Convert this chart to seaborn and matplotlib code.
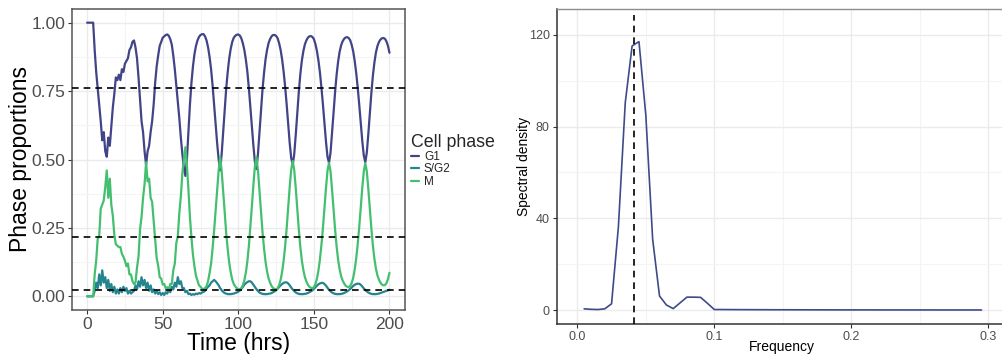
import numpy as np
import pandas as pd
import matplotlib
matplotlib.use("Agg")
import matplotlib.pyplot as plt
import seaborn as sns
from matplotlib.lines import Line2D
from matplotlib.ticker import FixedLocator

# ---------------- data ----------------
time_hrs = np.arange(0, 201)
g1 = [
    1.00, 1.00, 1.00, 1.00, 1.00, 0.90, 0.82, 0.76, 0.70, 0.64,
    0.57, 0.60, 0.53, 0.51, 0.58, 0.55, 0.62, 0.69, 0.74, 0.80,
    0.79, 0.81, 0.79, 0.83, 0.82, 0.85, 0.86, 0.87, 0.90, 0.91,
    0.93, 0.935, 0.91, 0.87, 0.80, 0.72, 0.64, 0.60, 0.53, 0.48,
    0.53, 0.55, 0.60, 0.64, 0.70, 0.78, 0.84, 0.88, 0.915, 0.93,
    0.945, 0.95, 0.955, 0.957, 0.952, 0.94, 0.92, 0.88, 0.83, 0.77,
    0.71, 0.65, 0.58, 0.52, 0.47, 0.44, 0.50, 0.60, 0.70, 0.78,
    0.84, 0.885, 0.915, 0.935, 0.948, 0.955, 0.958, 0.958, 0.95, 0.935,
    0.91, 0.875, 0.83, 0.77, 0.70, 0.63, 0.56, 0.50, 0.46, 0.52,
    0.60, 0.68, 0.76, 0.82, 0.87, 0.905, 0.93, 0.945, 0.952, 0.956,
    0.957, 0.953, 0.943, 0.925, 0.90, 0.865, 0.82, 0.76, 0.69, 0.62,
    0.55, 0.49, 0.465, 0.52, 0.60, 0.68, 0.755, 0.815, 0.865, 0.90,
    0.925, 0.94, 0.95, 0.955, 0.955, 0.952, 0.943, 0.925, 0.90, 0.865,
    0.82, 0.765, 0.70, 0.63, 0.56, 0.505, 0.48, 0.52, 0.59, 0.67,
    0.745, 0.81, 0.86, 0.895, 0.92, 0.935, 0.945, 0.95, 0.951, 0.948,
    0.94, 0.922, 0.897, 0.862, 0.818, 0.762, 0.70, 0.63, 0.565, 0.51,
    0.488, 0.525, 0.595, 0.67, 0.745, 0.808, 0.857, 0.893, 0.917, 0.932,
    0.941, 0.946, 0.947, 0.944, 0.936, 0.919, 0.895, 0.86, 0.816, 0.762,
    0.70, 0.632, 0.568, 0.515, 0.49, 0.525, 0.593, 0.668, 0.742, 0.805,
    0.853, 0.89, 0.914, 0.929, 0.938, 0.943, 0.944, 0.941, 0.932, 0.915,
    0.89,
]
sg2 = [
    0, 0, 0, 0, 0, 0.02, 0.05, 0.03, 0.08, 0.04,
    0.095, 0.05, 0.07, 0.03, 0.06, 0.02, 0.045, 0.015, 0.035, 0.01,
    0.025, 0.01, 0.03, 0.015, 0.035, 0.02, 0.03, 0.01, 0.02, 0.01,
    0.015, 0.02, 0.04, 0.025, 0.055, 0.035, 0.07, 0.04, 0.06, 0.03,
    0.05, 0.02, 0.04, 0.015, 0.025, 0.01, 0.02, 0.008, 0.015, 0.005,
    0.012, 0.005, 0.015, 0.01, 0.025, 0.015, 0.035, 0.025, 0.05, 0.035,
    0.07, 0.045, 0.055, 0.03, 0.03, 0.015, 0.02, 0.008, 0.01, 0.005,
    0.008, 0.006, 0.01, 0.008, 0.012, 0.01, 0.014, 0.016, 0.02, 0.028,
    0.035, 0.04, 0.05, 0.055, 0.06, 0.055, 0.048, 0.04, 0.03, 0.022,
    0.016, 0.012, 0.01, 0.008, 0.008, 0.008, 0.009, 0.01, 0.012, 0.014,
    0.017, 0.021, 0.027, 0.034, 0.042, 0.048, 0.052, 0.055, 0.055, 0.05,
    0.042, 0.034, 0.026, 0.019, 0.014, 0.011, 0.009, 0.008, 0.008, 0.008,
    0.009, 0.01, 0.012, 0.015, 0.018, 0.022, 0.028, 0.034, 0.04, 0.045,
    0.049, 0.051, 0.051, 0.047, 0.04, 0.032, 0.025, 0.019, 0.014, 0.011,
    0.009, 0.008, 0.008, 0.008, 0.009, 0.01, 0.012, 0.015, 0.018, 0.022,
    0.027, 0.033, 0.039, 0.044, 0.047, 0.049, 0.049, 0.045, 0.039, 0.031,
    0.024, 0.018, 0.014, 0.011, 0.009, 0.008, 0.008, 0.008, 0.009, 0.01,
    0.012, 0.015, 0.018, 0.022, 0.027, 0.032, 0.038, 0.042, 0.045, 0.046,
    0.046, 0.042, 0.036, 0.029, 0.023, 0.018, 0.014, 0.011, 0.009, 0.008,
    0.008, 0.008, 0.009, 0.01, 0.012, 0.014, 0.016, 0.018, 0.02, 0.022,
    0.024,
]
m_phase = [
    0, 0, 0, 0, 0, 0.08, 0.13, 0.21, 0.22, 0.32,
    0.335, 0.35, 0.40, 0.46, 0.36, 0.43, 0.335, 0.295, 0.225, 0.19,
    0.185, 0.18, 0.18, 0.155, 0.145, 0.13, 0.11, 0.12, 0.08, 0.08,
    0.055, 0.045, 0.05, 0.105, 0.145, 0.245, 0.29, 0.36, 0.41, 0.49,
    0.42, 0.43, 0.36, 0.345, 0.275, 0.21, 0.14, 0.112, 0.07, 0.065,
    0.043, 0.045, 0.03, 0.033, 0.023, 0.045, 0.045, 0.095, 0.12, 0.195,
    0.22, 0.305, 0.365, 0.45, 0.50, 0.545, 0.48, 0.392, 0.29, 0.215,
    0.152, 0.109, 0.075, 0.057, 0.04, 0.035, 0.028, 0.026, 0.03, 0.037,
    0.055, 0.085, 0.12, 0.175, 0.24, 0.315, 0.392, 0.46, 0.51, 0.458,
    0.384, 0.308, 0.23, 0.172, 0.122, 0.087, 0.061, 0.045, 0.036, 0.03,
    0.026, 0.026, 0.03, 0.041, 0.058, 0.087, 0.128, 0.185, 0.255, 0.33,
    0.408, 0.476, 0.509, 0.461, 0.386, 0.309, 0.236, 0.177, 0.127, 0.092,
    0.066, 0.05, 0.038, 0.03, 0.027, 0.026, 0.029, 0.041, 0.06, 0.09,
    0.131, 0.184, 0.249, 0.323, 0.40, 0.463, 0.495, 0.461, 0.396, 0.319,
    0.246, 0.182, 0.132, 0.097, 0.071, 0.055, 0.043, 0.035, 0.031, 0.03,
    0.033, 0.045, 0.064, 0.094, 0.135, 0.189, 0.251, 0.325, 0.396, 0.459,
    0.488, 0.457, 0.391, 0.319, 0.246, 0.184, 0.135, 0.099, 0.074, 0.058,
    0.047, 0.039, 0.035, 0.034, 0.037, 0.049, 0.067, 0.098, 0.139, 0.192,
    0.254, 0.326, 0.396, 0.456, 0.487, 0.457, 0.393, 0.321, 0.249, 0.187,
    0.139, 0.102, 0.077, 0.061, 0.05, 0.043, 0.04, 0.041, 0.048, 0.063,
    0.086,
]
phases = ["G1", "S/G2", "M"]
threshold_levels = [0.76, 0.215, 0.022]
prop_ticks = [0.0, 0.25, 0.50, 0.75, 1.00]
time_ticks = [0, 50, 100, 150, 200]

freq = np.round(np.arange(1, 60) * 0.005, 3)
spec = [
    0.6, 0.4, 0.3, 0.6, 2.8, 36.4, 90.4, 115.1, 117.0, 85.0,
    30.9, 6.2, 2.3, 0.7, 3.2, 5.7, 5.7, 5.6, 3.0, 0.3,
    0.3, 0.28, 0.26, 0.25, 0.24, 0.23, 0.22, 0.21, 0.2, 0.2,
    0.19, 0.18, 0.18, 0.17, 0.17, 0.16, 0.16, 0.15, 0.15, 0.15,
    0.14, 0.14, 0.14, 0.13, 0.13, 0.13, 0.13, 0.12, 0.12, 0.12,
    0.12, 0.12, 0.11, 0.11, 0.11, 0.11, 0.11, 0.11, 0.1,
]
peak_freq = 0.0416
peak_line_top = 128.6
freq_ticks = [0.0, 0.1, 0.2, 0.3]
spec_ticks = [0, 40, 80, 120]

# ---------------- style ----------------
sns.set_theme(style="white")
plt.rcParams["font.family"] = ["Liberation Sans", "DejaVu Sans"]

palette = {"G1": "#414487", "S/G2": "#25858E", "M": "#44BF70"}
spec_color = "#3F4A8A"
tick_col = "#4D4D4D"
grid_major = "#EBEBEB"
grid_minor = "#F4F4F4"

W, H = 1003, 354
fig = plt.figure(figsize=(W / 100, H / 100), dpi=100)
ax1 = fig.add_axes([72 / W, (H - 310) / H, 332.6 / W, 301 / H])
ax2 = fig.add_axes([556.7 / W, (H - 324) / H, 450 / W, 315 / H])

# ---------------- left panel ----------------
df = pd.DataFrame({
    "time": np.tile(time_hrs, 3),
    "value": np.concatenate([g1, sg2, m_phase]),
    "phase": np.repeat(phases, len(time_hrs)),
})
sns.lineplot(data=df, x="time", y="value", hue="phase", hue_order=phases,
             palette=palette, estimator=None, sort=False, linewidth=1.6,
             ax=ax1, legend=False, zorder=3)
for lv in threshold_levels:
    ax1.axhline(lv, color="black", linestyle=(0, (4, 3)), linewidth=1.2, zorder=4)

ax1.set_xlim(-10, 210)
ax1.set_ylim(-0.05, 1.05)
ax1.xaxis.set_major_locator(FixedLocator(time_ticks))
ax1.xaxis.set_minor_locator(FixedLocator([25, 75, 125, 175]))
ax1.yaxis.set_major_locator(FixedLocator(prop_ticks))
ax1.yaxis.set_minor_locator(FixedLocator([0.125, 0.375, 0.625, 0.875]))
ax1.set_yticklabels([f"{v:.2f}" for v in prop_ticks])
ax1.set_xticklabels([str(v) for v in time_ticks])
ax1.grid(which="major", color=grid_major, linewidth=1.0, zorder=0)
ax1.grid(which="minor", color=grid_minor, linewidth=0.8, zorder=0)
ax1.set_axisbelow(True)
ax1.tick_params(which="major", length=3, width=0.8, color="#333333",
                labelsize=12.5, labelcolor=tick_col, pad=2,
                left=True, bottom=True)
ax1.tick_params(which="minor", length=0)
for s in ax1.spines.values():
    s.set_color("#555555")
    s.set_linewidth(1.1)
ax1.set_xlabel("Time (hrs)", fontsize=16.5, color="black")
ax1.set_ylabel("Phase proportions", fontsize=16.5, color="black")
ax1.xaxis.set_label_coords(0.5, -0.072)
ax1.yaxis.set_label_coords(-0.12, 0.5)

handles = [Line2D([0], [0], color=palette[p], linewidth=1.6) for p in phases]
leg = ax1.legend(handles, phases, title="Cell phase", frameon=False,
                 loc="upper left", bbox_to_anchor=(411 / W, 1 - 134 / H),
                 bbox_transform=fig.transFigure, fontsize=8.5,
                 title_fontsize=12.8, handlelength=0.7, handletextpad=0.4,
                 labelspacing=0.02, borderpad=0, borderaxespad=0)
leg._legend_box.align = "left"

# ---------------- right panel ----------------
sns.lineplot(x=freq, y=spec, color=spec_color, linewidth=1.2, ax=ax2,
             estimator=None, sort=False, zorder=3)
ax2.vlines(peak_freq, -6, peak_line_top, colors="black",
           linestyles=(0, (4, 3)), linewidth=1.2, zorder=4)
ax2.set_xlim(-0.01504, 0.3134)
ax2.set_ylim(-6, 131.2)
ax2.xaxis.set_major_locator(FixedLocator(freq_ticks))
ax2.xaxis.set_minor_locator(FixedLocator([0.05, 0.15, 0.25]))
ax2.yaxis.set_major_locator(FixedLocator(spec_ticks))
ax2.yaxis.set_minor_locator(FixedLocator([20, 60, 100]))
ax2.set_xticklabels([f"{v:.1f}" for v in freq_ticks])
ax2.set_yticklabels([str(v) for v in spec_ticks])
ax2.grid(which="major", color=grid_major, linewidth=1.0, zorder=0)
ax2.grid(which="minor", color=grid_minor, linewidth=0.8, zorder=0)
ax2.set_axisbelow(True)
ax2.tick_params(which="major", length=3, width=0.8, color="#333333",
                labelsize=9, labelcolor=tick_col, pad=2,
                left=True, bottom=True)
ax2.tick_params(which="minor", length=0)
ax2.spines["left"].set_color("#333333")
ax2.spines["bottom"].set_color("#333333")
ax2.spines["left"].set_linewidth(1.1)
ax2.spines["bottom"].set_linewidth(1.1)
ax2.spines["top"].set_color("#8C8C8C")
ax2.spines["top"].set_linewidth(1.0)
ax2.spines["right"].set_visible(False)
ax2.set_xlabel("Frequency", fontsize=10, color="black")
ax2.set_ylabel("Spectral density", fontsize=10, color="black")
ax2.xaxis.set_label_coords(0.5, -0.05)
ax2.yaxis.set_label_coords(-0.058, 0.5)

fig.savefig("out.png", dpi=100)
